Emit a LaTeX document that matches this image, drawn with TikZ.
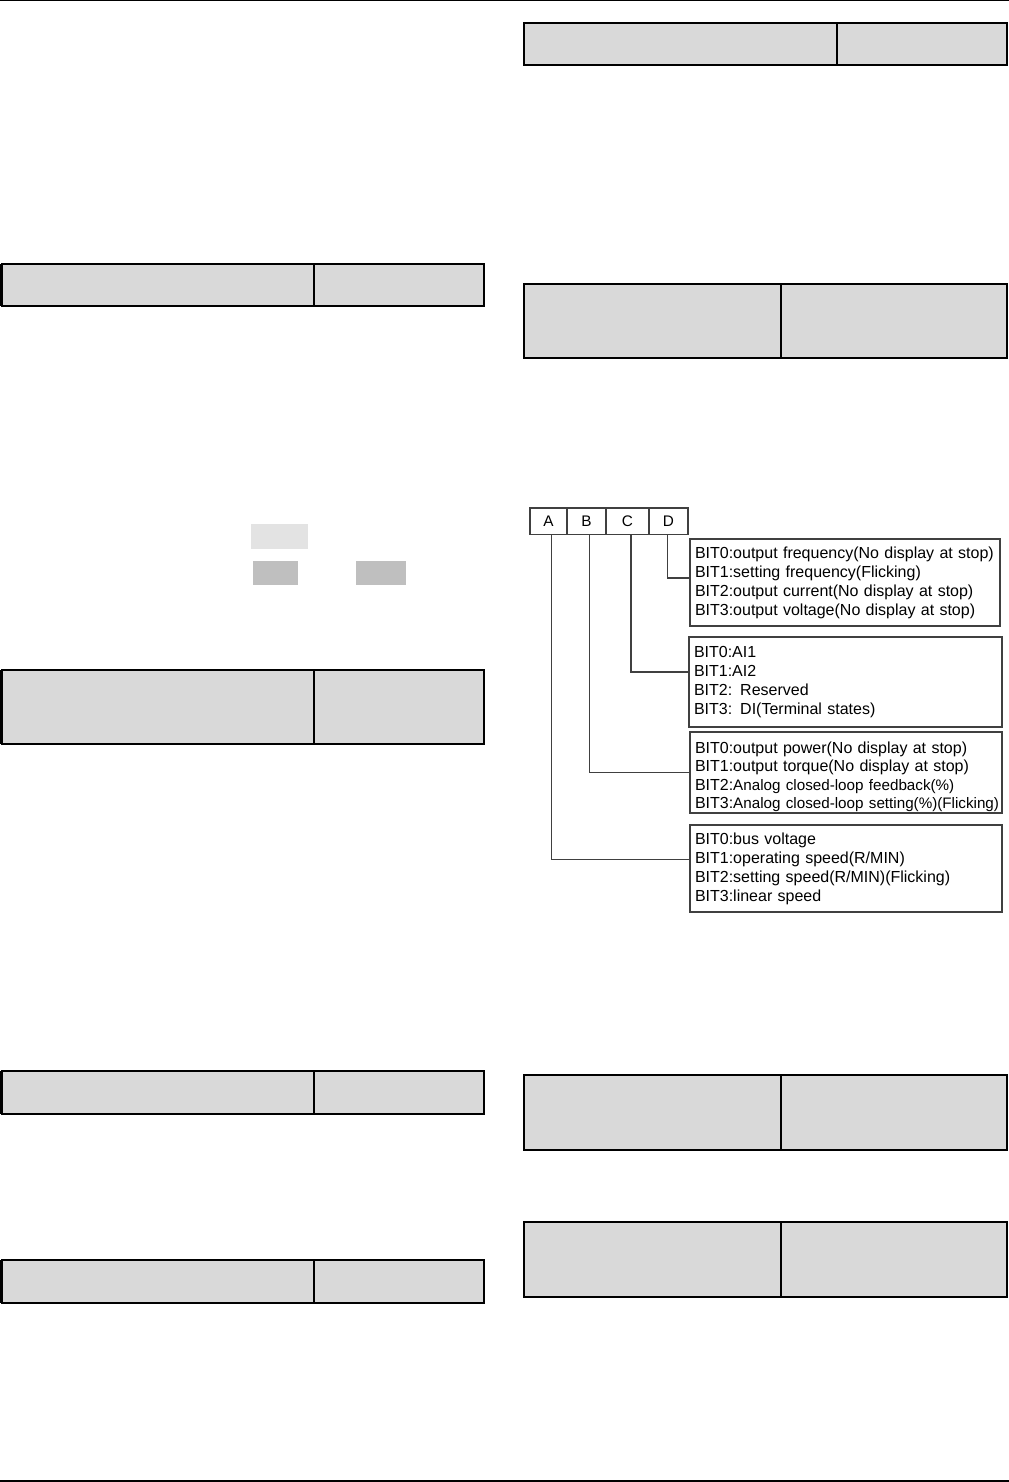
\documentclass[tikz,border=0pt]{standalone}
\usepackage{fontspec}
\setmainfont{Liberation Sans}
\definecolor{tblgray}{HTML}{D9D9D9}
\definecolor{lightgray}{HTML}{E3E3E3}
\definecolor{midgray}{HTML}{BFBFBF}
\definecolor{linegray}{HTML}{404040}
\begin{document}
\begin{tikzpicture}[x=0.75pt,y=-0.75pt,
  tbl/.style={fill=tblgray, draw=black, line width=1.1pt},
  tbldiv/.style={draw=black, line width=1.1pt},
  cell/.style={draw=linegray, line width=0.8pt, anchor=north west, outer sep=0pt, minimum height=19.9pt, inner sep=0pt, font=\fontsize{11.5}{13}\selectfont},
  bitbox/.style={draw=linegray, line width=0.8pt, anchor=north west, outer sep=0pt, align=left, inner xsep=3.75pt, inner ysep=0pt, font=\fontsize{12}{14.25}\selectfont},
  conn/.style={draw=linegray, line width=0.8pt}]
\useasboundingbox (0,0) rectangle (1009,1482);
% page rules
\draw[line width=0.75pt] (0,0.5) -- (1009,0.5);
\draw[line width=1.5pt] (0,1481) -- (1009,1481);
% left tables
\foreach \ya/\yb in {264/306, 670/744, 1071/1114, 1260/1303}{
  \path[tbl] (1.25,\ya) rectangle (484,\yb);
  \draw[tbldiv] (314,\ya) -- (314,\yb);
  \draw[line width=1.9pt] (1.25,\ya) -- (1.25,\yb);
}
% right tables
\path[tbl] (524,23) rectangle (1007,65);
\draw[tbldiv] (837,23) -- (837,65);
\foreach \ya/\yb in {284/358, 1075/1150, 1222/1297}{
  \path[tbl] (524,\ya) rectangle (1007,\yb);
  \draw[tbldiv] (781,\ya) -- (781,\yb);
}
% small highlight rectangles
\fill[lightgray] (251,524) rectangle (308,549);
\fill[midgray] (253,561) rectangle (298,585);
\fill[midgray] (356,561) rectangle (406,585);
% bit diagram
\node[cell, minimum width=27.75pt] (cA) at (530,508) {A};
\node[cell, minimum width=29.25pt] (cB) at (cA.north east) {B};
\node[cell, minimum width=32.25pt] (cC) at (cB.north east) {C};
\node[cell, minimum width=29.25pt] (cD) at (cC.north east) {D};
\node[bitbox, text width=225pt, minimum height=65.25pt] (bD) at (690,539)
  {\mbox{BIT0:output frequency(No display at stop)}\\\mbox{BIT1:setting frequency(Flicking)}\\\mbox{BIT2:output current(No display at stop)}\\\mbox{BIT3:output voltage(No display at stop)}};
\node[bitbox, text width=227.25pt, minimum height=67.5pt] (bC) at (689,637)
  {\mbox{BIT0:AI1}\\\mbox{BIT1:AI2}\\\mbox{BIT2: Reserved}\\\mbox{BIT3: DI(Terminal states)}};
\node[bitbox, text width=226.5pt, minimum height=60.75pt, font=\fontsize{12}{13.75}\selectfont] (bB) at (690,732)
  {\rule{0pt}{15pt}\mbox{BIT0:output power(No display at stop)}\\\mbox{BIT1:output torque(No display at stop)}\\\mbox{BIT2:{\fontsize{11.4}{13.75}\selectfont Analog closed-loop feedback(\%)}}\\\mbox{BIT3:{\fontsize{11.4}{13.75}\selectfont Analog closed-loop setting(\%)(Flicking)}}};
\node[bitbox, text width=226.5pt, minimum height=65.25pt] (bA) at (690,825)
  {\mbox{BIT0:bus voltage}\\\mbox{BIT1:operating speed(R/MIN)}\\\mbox{BIT2:setting speed(R/MIN)(Flicking)}\\\mbox{BIT3:linear speed}};
\draw[conn] ([xshift=-1.1pt]cD.south) |- ([yshift=3.4pt]bD.west);
\draw[conn] ([xshift=2.6pt]cC.south) |- ([yshift=7.5pt]bC.west);
\draw[conn] ([xshift=1.9pt]cB.south) |- (bB.west);
\draw[conn] ([xshift=1.9pt]cA.south) |- ([yshift=7.1pt]bA.west);
\end{tikzpicture}
\end{document}
